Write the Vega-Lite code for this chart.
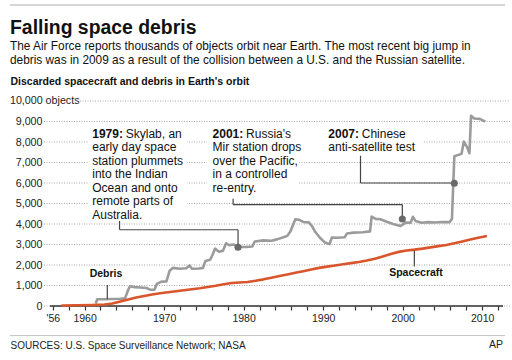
{
  "$schema": "https://vega.github.io/schema/vega-lite/v6.json",
  "width": 466,
  "height": 205,
  "autosize": {"type": "none"},
  "padding": {"left": 44, "top": 101, "right": 2, "bottom": 54},
  "background": "white",
  "config": {"font": "Liberation Sans", "view": {"stroke": null}},
  "title": {
    "text": "Falling space debris",
    "subtitle": [
      "The Air Force reports thousands of objects orbit near Earth. The most recent big jump in",
      "debris was in 2009 as a result of the collision between a U.S. and the Russian satellite."
    ],
    "anchor": "start",
    "frame": "group",
    "dx": -34,
    "dy": 64,
    "offset": 0,
    "font": "Liberation Sans",
    "fontSize": 19.4,
    "fontWeight": "bold",
    "color": "#111",
    "subtitleFont": "Liberation Sans",
    "subtitleFontSize": 11.85,
    "subtitleColor": "#111",
    "subtitleLineHeight": 14.5,
    "subtitlePadding": 2
  },
  "resolve": {"axis": {"x": "independent", "y": "independent"}},
  "datasets": {
    "gridLines": [
      {"tick": 0, "from": 1954.9, "to": 2013.5},
      {"tick": 1000, "from": 1954.9, "to": 2013.5},
      {"tick": 2000, "from": 1954.9, "to": 2013.5},
      {"tick": 3000, "from": 1954.9, "to": 2013.5},
      {"tick": 4000, "from": 1954.9, "to": 2013.5},
      {"tick": 5000, "from": 1954.9, "to": 2013.5},
      {"tick": 6000, "from": 1954.9, "to": 2013.5},
      {"tick": 7000, "from": 1954.9, "to": 2013.5},
      {"tick": 8000, "from": 1954.9, "to": 2013.5},
      {"tick": 9000, "from": 1954.9, "to": 2013.5},
      {"tick": 10000, "from": 1959.43, "to": 2013.5}
    ],
    "orbit": [
      {"year": 1961.4, "count": 120, "kind": "Debris"},
      {"year": 1961.6, "count": 330, "kind": "Debris"},
      {"year": 1962.5, "count": 330, "kind": "Debris"},
      {"year": 1963.5, "count": 340, "kind": "Debris"},
      {"year": 1964.5, "count": 350, "kind": "Debris"},
      {"year": 1965.1, "count": 370, "kind": "Debris"},
      {"year": 1965.4, "count": 700, "kind": "Debris"},
      {"year": 1965.7, "count": 960, "kind": "Debris"},
      {"year": 1966.3, "count": 920, "kind": "Debris"},
      {"year": 1967.0, "count": 900, "kind": "Debris"},
      {"year": 1967.8, "count": 880, "kind": "Debris"},
      {"year": 1968.3, "count": 790, "kind": "Debris"},
      {"year": 1968.8, "count": 800, "kind": "Debris"},
      {"year": 1969.1, "count": 1080, "kind": "Debris"},
      {"year": 1969.6, "count": 1180, "kind": "Debris"},
      {"year": 1970.3, "count": 1200, "kind": "Debris"},
      {"year": 1970.7, "count": 1720, "kind": "Debris"},
      {"year": 1971.1, "count": 1860, "kind": "Debris"},
      {"year": 1972.0, "count": 1820, "kind": "Debris"},
      {"year": 1972.8, "count": 1840, "kind": "Debris"},
      {"year": 1973.2, "count": 1980, "kind": "Debris"},
      {"year": 1973.5, "count": 1820, "kind": "Debris"},
      {"year": 1974.4, "count": 1830, "kind": "Debris"},
      {"year": 1974.9, "count": 1860, "kind": "Debris"},
      {"year": 1975.2, "count": 2200, "kind": "Debris"},
      {"year": 1975.8, "count": 2260, "kind": "Debris"},
      {"year": 1976.1, "count": 2500, "kind": "Debris"},
      {"year": 1976.4, "count": 2800, "kind": "Debris"},
      {"year": 1976.9, "count": 2650, "kind": "Debris"},
      {"year": 1977.4, "count": 2700, "kind": "Debris"},
      {"year": 1977.8, "count": 3060, "kind": "Debris"},
      {"year": 1978.2, "count": 2970, "kind": "Debris"},
      {"year": 1978.8, "count": 3000, "kind": "Debris"},
      {"year": 1979.2, "count": 2900, "kind": "Debris"},
      {"year": 1979.6, "count": 2880, "kind": "Debris"},
      {"year": 1980.3, "count": 2880, "kind": "Debris"},
      {"year": 1981.1, "count": 2900, "kind": "Debris"},
      {"year": 1981.4, "count": 3150, "kind": "Debris"},
      {"year": 1982.5, "count": 3200, "kind": "Debris"},
      {"year": 1983.5, "count": 3180, "kind": "Debris"},
      {"year": 1984.2, "count": 3250, "kind": "Debris"},
      {"year": 1985.0, "count": 3350, "kind": "Debris"},
      {"year": 1985.5, "count": 3420, "kind": "Debris"},
      {"year": 1985.9, "count": 3650, "kind": "Debris"},
      {"year": 1986.5, "count": 4230, "kind": "Debris"},
      {"year": 1987.0, "count": 4200, "kind": "Debris"},
      {"year": 1987.5, "count": 4100, "kind": "Debris"},
      {"year": 1988.2, "count": 4080, "kind": "Debris"},
      {"year": 1988.6, "count": 3900, "kind": "Debris"},
      {"year": 1989.0, "count": 3620, "kind": "Debris"},
      {"year": 1989.6, "count": 3330, "kind": "Debris"},
      {"year": 1990.2, "count": 3100, "kind": "Debris"},
      {"year": 1990.8, "count": 3020, "kind": "Debris"},
      {"year": 1991.1, "count": 3340, "kind": "Debris"},
      {"year": 1991.8, "count": 3330, "kind": "Debris"},
      {"year": 1992.7, "count": 3350, "kind": "Debris"},
      {"year": 1993.0, "count": 3540, "kind": "Debris"},
      {"year": 1993.8, "count": 3580, "kind": "Debris"},
      {"year": 1995.0, "count": 3600, "kind": "Debris"},
      {"year": 1995.9, "count": 3640, "kind": "Debris"},
      {"year": 1996.1, "count": 4360, "kind": "Debris"},
      {"year": 1996.6, "count": 4250, "kind": "Debris"},
      {"year": 1997.2, "count": 4230, "kind": "Debris"},
      {"year": 1998.0, "count": 4110, "kind": "Debris"},
      {"year": 1998.8, "count": 4000, "kind": "Debris"},
      {"year": 1999.7, "count": 3900, "kind": "Debris"},
      {"year": 2000.4, "count": 4070, "kind": "Debris"},
      {"year": 2001.0, "count": 4060, "kind": "Debris"},
      {"year": 2001.3, "count": 4350, "kind": "Debris"},
      {"year": 2001.6, "count": 4150, "kind": "Debris"},
      {"year": 2002.4, "count": 4060, "kind": "Debris"},
      {"year": 2003.2, "count": 4090, "kind": "Debris"},
      {"year": 2004.0, "count": 4070, "kind": "Debris"},
      {"year": 2005.0, "count": 4100, "kind": "Debris"},
      {"year": 2005.9, "count": 4090, "kind": "Debris"},
      {"year": 2006.2, "count": 4250, "kind": "Debris"},
      {"year": 2006.5, "count": 7300, "kind": "Debris"},
      {"year": 2007.4, "count": 7420, "kind": "Debris"},
      {"year": 2007.7, "count": 8020, "kind": "Debris"},
      {"year": 2008.1, "count": 7750, "kind": "Debris"},
      {"year": 2008.4, "count": 7450, "kind": "Debris"},
      {"year": 2008.6, "count": 9280, "kind": "Debris"},
      {"year": 2009.0, "count": 9150, "kind": "Debris"},
      {"year": 2009.7, "count": 9130, "kind": "Debris"},
      {"year": 2010.4, "count": 8990, "kind": "Debris"},
      {"year": 1957.1, "count": 20, "kind": "Spacecraft"},
      {"year": 1959.0, "count": 40, "kind": "Spacecraft"},
      {"year": 1961.0, "count": 50, "kind": "Spacecraft"},
      {"year": 1962.5, "count": 70, "kind": "Spacecraft"},
      {"year": 1963.5, "count": 120, "kind": "Spacecraft"},
      {"year": 1964.5, "count": 220, "kind": "Spacecraft"},
      {"year": 1965.5, "count": 320, "kind": "Spacecraft"},
      {"year": 1966.5, "count": 410, "kind": "Spacecraft"},
      {"year": 1967.5, "count": 490, "kind": "Spacecraft"},
      {"year": 1968.5, "count": 560, "kind": "Spacecraft"},
      {"year": 1969.5, "count": 620, "kind": "Spacecraft"},
      {"year": 1970.5, "count": 670, "kind": "Spacecraft"},
      {"year": 1971.5, "count": 720, "kind": "Spacecraft"},
      {"year": 1972.5, "count": 770, "kind": "Spacecraft"},
      {"year": 1973.5, "count": 820, "kind": "Spacecraft"},
      {"year": 1974.5, "count": 870, "kind": "Spacecraft"},
      {"year": 1975.5, "count": 930, "kind": "Spacecraft"},
      {"year": 1976.5, "count": 990, "kind": "Spacecraft"},
      {"year": 1977.5, "count": 1060, "kind": "Spacecraft"},
      {"year": 1978.5, "count": 1120, "kind": "Spacecraft"},
      {"year": 1979.5, "count": 1150, "kind": "Spacecraft"},
      {"year": 1980.5, "count": 1170, "kind": "Spacecraft"},
      {"year": 1981.5, "count": 1230, "kind": "Spacecraft"},
      {"year": 1982.5, "count": 1300, "kind": "Spacecraft"},
      {"year": 1983.5, "count": 1380, "kind": "Spacecraft"},
      {"year": 1984.5, "count": 1460, "kind": "Spacecraft"},
      {"year": 1985.5, "count": 1540, "kind": "Spacecraft"},
      {"year": 1986.5, "count": 1620, "kind": "Spacecraft"},
      {"year": 1987.5, "count": 1700, "kind": "Spacecraft"},
      {"year": 1988.5, "count": 1780, "kind": "Spacecraft"},
      {"year": 1989.5, "count": 1860, "kind": "Spacecraft"},
      {"year": 1990.5, "count": 1920, "kind": "Spacecraft"},
      {"year": 1991.5, "count": 1980, "kind": "Spacecraft"},
      {"year": 1992.5, "count": 2040, "kind": "Spacecraft"},
      {"year": 1993.5, "count": 2090, "kind": "Spacecraft"},
      {"year": 1994.5, "count": 2150, "kind": "Spacecraft"},
      {"year": 1995.5, "count": 2220, "kind": "Spacecraft"},
      {"year": 1996.5, "count": 2300, "kind": "Spacecraft"},
      {"year": 1997.5, "count": 2420, "kind": "Spacecraft"},
      {"year": 1998.5, "count": 2540, "kind": "Spacecraft"},
      {"year": 1999.5, "count": 2640, "kind": "Spacecraft"},
      {"year": 2000.5, "count": 2710, "kind": "Spacecraft"},
      {"year": 2001.5, "count": 2750, "kind": "Spacecraft"},
      {"year": 2002.5, "count": 2800, "kind": "Spacecraft"},
      {"year": 2003.5, "count": 2860, "kind": "Spacecraft"},
      {"year": 2004.5, "count": 2920, "kind": "Spacecraft"},
      {"year": 2005.5, "count": 2980, "kind": "Spacecraft"},
      {"year": 2006.5, "count": 3060, "kind": "Spacecraft"},
      {"year": 2007.5, "count": 3150, "kind": "Spacecraft"},
      {"year": 2008.5, "count": 3240, "kind": "Spacecraft"},
      {"year": 2009.5, "count": 3330, "kind": "Spacecraft"},
      {"year": 2010.6, "count": 3410, "kind": "Spacecraft"}
    ],
    "noteHeads": [
      {"year": 1960.97, "count": 8210, "t": "1979:"},
      {"year": 1976.1, "count": 8210, "t": "2001:"},
      {"year": 1990.65, "count": 8210, "t": "2007:"}
    ],
    "noteBodies": [
      {"year": 1965.18, "count": 8210, "t": "Skylab, an"},
      {"year": 1960.97, "count": 7551, "t": "early day space\nstation plummets\ninto the Indian\nOcean and onto\nremote parts of\nAustralia."},
      {"year": 1980.31, "count": 8210, "t": "Russia's"},
      {"year": 1976.1, "count": 7551, "t": "Mir station drops\nover the Pacific,\nin a controlled\nre-entry."},
      {"year": 1994.86, "count": 8210, "t": "Chinese"},
      {"year": 1990.65, "count": 7551, "t": "anti-satellite test"}
    ],
    "noteBoxes": [
      {"year": 1960.43, "count": 8800, "year2": 1972.9, "count2": 4230},
      {"year": 1975.4, "count": 8800, "year2": 1990.3, "count2": 7800},
      {"year": 1975.4, "count": 8800, "year2": 1987.0, "count2": 5330},
      {"year": 1990.0, "count": 8800, "year2": 2002.5, "count2": 7700}
    ],
    "seriesLabels": [
      {"year": 1962.7, "count": 1560, "t": "Debris"},
      {"year": 2001.68, "count": 1590, "t": "Spacecraft"}
    ],
    "leaders": [
      {"year": 1962.86, "count": 1020, "year2": 1962.86, "count2": 330},
      {"year": 2001.47, "count": 2700, "year2": 2001.47, "count2": 1930},
      {"year": 1964.4, "count": 4150, "year2": 1964.4, "count2": 3720},
      {"year": 1964.4, "count": 3720, "year2": 1979.3, "count2": 3720},
      {"year": 1979.3, "count": 3720, "year2": 1979.3, "count2": 2900},
      {"year": 1978.68, "count": 5230, "year2": 1978.68, "count2": 4950},
      {"year": 1978.68, "count": 4950, "year2": 1999.96, "count2": 4950},
      {"year": 1999.96, "count": 4950, "year2": 1999.96, "count2": 4250},
      {"year": 1994.7, "count": 7330, "year2": 1994.7, "count2": 6000},
      {"year": 1994.7, "count": 6000, "year2": 2006.5, "count2": 6000}
    ],
    "events": [
      {"year": 1979.3, "count": 2863},
      {"year": 1999.96, "count": 4244},
      {"year": 2006.5, "count": 5990}
    ]
  },
  "layer": [
    {
      "data": {"name": "gridLines"},
      "mark": {"type": "rule", "color": "#a8a8a8", "strokeDash": [1, 1.5], "strokeWidth": 1},
      "encoding": {
        "x": {"field": "from", "type": "quantitative", "axis": null},
        "x2": {"field": "to"},
        "y": {"field": "tick", "type": "quantitative", "axis": null}
      }
    },
    {
      "data": {"name": "noteBoxes"},
      "mark": {"type": "rect", "color": "white", "opacity": 1},
      "encoding": {
        "x": {"field": "year", "type": "quantitative", "axis": null},
        "x2": {"field": "year2"},
        "y": {"field": "count", "type": "quantitative", "axis": null},
        "y2": {"field": "count2"}
      }
    },
    {
      "data": {"values": [{}]},
      "mark": {"type": "text", "text": "10,000 objects", "align": "left", "baseline": "middle", "fontSize": 10.7, "color": "#222"},
      "encoding": {
        "x": {"datum": 1950.62, "axis": null},
        "y": {"datum": 10000, "axis": null}
      }
    },
    {
      "data": {"values": [{}]},
      "mark": {"type": "rule", "color": "#c8c8c8", "strokeWidth": 1.5},
      "encoding": {
        "x": {"datum": 1950.62, "axis": null},
        "x2": {"datum": 2012.87},
        "y": {"datum": 14683, "axis": null}
      }
    },
    {
      "data": {"values": [{}]},
      "mark": {"type": "rule", "color": "#c8c8c8", "strokeWidth": 1.2},
      "encoding": {
        "x": {"datum": 1950.62, "axis": null},
        "x2": {"datum": 2012.87},
        "y": {"datum": -1439, "axis": null}
      }
    },
    {
      "data": {"values": [{}]},
      "mark": {"type": "rule", "color": "#333", "strokeWidth": 1.4},
      "encoding": {
        "x": {"datum": 1955.65, "axis": null},
        "x2": {"datum": 2012.62},
        "y": {"datum": 0, "axis": null}
      }
    },
    {
      "data": {"values": [{}]},
      "mark": {"type": "text", "text": "AP", "align": "right", "baseline": "middle", "fontSize": 10.5, "color": "#222"},
      "encoding": {
        "x": {"datum": 2012.62, "axis": null},
        "y": {"datum": -1902, "axis": null}
      }
    },
    {
      "data": {"name": "orbit"},
      "mark": {"type": "line", "strokeWidth": 2.6, "strokeJoin": "round"},
      "encoding": {
        "x": {
          "field": "year",
          "type": "quantitative",
          "scale": {"domain": [1954.9, 2013.5], "nice": false, "zero": false},
          "axis": {
            "values": [1956, 1958, 1960, 1962, 1964, 1966, 1968, 1970, 1972, 1974, 1976, 1978, 1980, 1982, 1984, 1986, 1988, 1990, 1992, 1994, 1996, 1998, 2000, 2002, 2004, 2006, 2008, 2010, 2012],
            "labelExpr": "datum.value == 1956 ? \"'56\" : (datum.value % 10 == 0 ? format(datum.value, 'd') : '')",
            "domain": false,
            "grid": false,
            "ticks": true,
            "tickSize": 4,
            "tickColor": "#333",
            "tickWidth": 1.2,
            "labelFontSize": 10.5,
            "labelColor": "#222",
            "labelPadding": 3,
            "labelOverlap": false,
            "labelFlush": false,
            "labelBound": false,
            "title": "SOURCES:  U.S. Space Surveillance Network; NASA",
            "titleX": -34,
            "titleY": 39,
            "titleAlign": "left",
            "titleBaseline": "middle",
            "titleFontSize": 10,
            "titleFontWeight": "normal",
            "titleColor": "#222"
          }
        },
        "y": {
          "field": "count",
          "type": "quantitative",
          "scale": {"domain": [0, 10000], "nice": false},
          "axis": {
            "values": [0, 1000, 2000, 3000, 4000, 5000, 6000, 7000, 8000, 9000],
            "format": ",d",
            "ticks": false,
            "tickSize": 0,
            "domain": false,
            "grid": false,
            "labelAlign": "right",
            "labelPadding": 2,
            "labelBaseline": "middle",
            "labelFontSize": 10.7,
            "labelColor": "#222",
            "labelOverlap": false,
            "title": "Discarded spacecraft and debris in Earth's orbit",
            "titleAngle": 0,
            "titleAlign": "left",
            "titleBaseline": "middle",
            "titleX": -34,
            "titleY": -19.5,
            "titleFontSize": 10.5,
            "titleFontWeight": "bold",
            "titleColor": "#111"
          }
        },
        "color": {
          "field": "kind",
          "type": "nominal",
          "scale": {"domain": ["Debris", "Spacecraft"], "range": ["#9b9b9b", "#d9552b"]},
          "legend": null
        }
      }
    },
    {
      "data": {"name": "leaders"},
      "mark": {"type": "rule", "color": "#444", "strokeWidth": 1.2},
      "encoding": {
        "x": {"field": "year", "type": "quantitative", "axis": null},
        "x2": {"field": "year2"},
        "y": {"field": "count", "type": "quantitative", "axis": null},
        "y2": {"field": "count2"}
      }
    },
    {
      "data": {"name": "noteHeads"},
      "mark": {"type": "text", "align": "left", "baseline": "alphabetic", "fontSize": 12, "fontWeight": "bold", "color": "#111"},
      "encoding": {
        "x": {"field": "year", "type": "quantitative", "axis": null},
        "y": {"field": "count", "type": "quantitative", "axis": null},
        "text": {"field": "t"}
      }
    },
    {
      "data": {"name": "noteBodies"},
      "mark": {"type": "text", "align": "left", "baseline": "alphabetic", "fontSize": 12, "lineBreak": "\n", "lineHeight": 13.5, "color": "#111"},
      "encoding": {
        "x": {"field": "year", "type": "quantitative", "axis": null},
        "y": {"field": "count", "type": "quantitative", "axis": null},
        "text": {"field": "t"}
      }
    },
    {
      "data": {"name": "seriesLabels"},
      "mark": {"type": "text", "align": "center", "baseline": "middle", "fontSize": 10.5, "fontWeight": "bold", "color": "#111"},
      "encoding": {
        "x": {"field": "year", "type": "quantitative", "axis": null},
        "y": {"field": "count", "type": "quantitative", "axis": null},
        "text": {"field": "t"}
      }
    },
    {
      "data": {"name": "events"},
      "mark": {"type": "point", "filled": true, "color": "#6a6a6a", "size": 50, "opacity": 1},
      "encoding": {
        "x": {"field": "year", "type": "quantitative", "axis": null},
        "y": {"field": "count", "type": "quantitative", "axis": null}
      }
    }
  ]
}
